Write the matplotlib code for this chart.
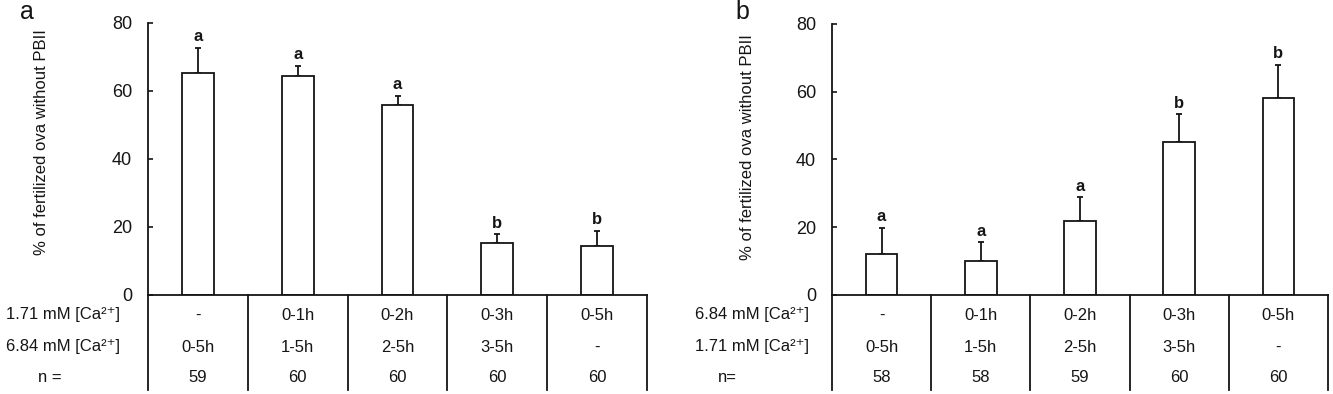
import matplotlib
matplotlib.use("Agg")
import matplotlib.pyplot as plt

plt.rcParams['font.family'] = ['Liberation Sans', 'DejaVu Sans']

# panel a
a_means = [65.1, 64.4, 55.9, 15.1, 14.4]
a_errs = [7.5, 2.9, 2.6, 2.7, 4.4]
a_letters = ['a', 'a', 'a', 'b', 'b']
a_row1 = ['-', '0-1h', '0-2h', '0-3h', '0-5h']
a_row2 = ['0-5h', '1-5h', '2-5h', '3-5h', '-']
a_n = ['59', '60', '60', '60', '60']
a_labels = ['1.71 mM [Ca²⁺]', '6.84 mM [Ca²⁺]', 'n =']

# panel b
b_means = [12.0, 9.9, 21.8, 45.0, 58.2]
b_errs = [7.8, 5.7, 7.1, 8.3, 9.8]
b_letters = ['a', 'a', 'a', 'b', 'b']
b_row1 = ['-', '0-1h', '0-2h', '0-3h', '0-5h']
b_row2 = ['0-5h', '1-5h', '2-5h', '3-5h', '-']
b_n = ['58', '58', '59', '60', '60']
b_labels = ['6.84 mM [Ca²⁺]', '1.71 mM [Ca²⁺]', 'n=']

W, H = 1333, 394
INK = '#151515'
fig = plt.figure(figsize=(W / 100, H / 100), dpi=100)


def panel(x0, x1, ytop, ybot, means, errs, letters, row1, row2, nvals, rowlabels,
          tag, tagx, ylab_x, ylab_y, lab_x, n_x):
    ax = fig.add_axes([x0 / W, 1 - ybot / H, (x1 - x0) / W, (ybot - ytop) / H])
    xs = range(len(means))
    ax.bar(xs, means, width=0.32, color='white', edgecolor=INK, linewidth=1.3, zorder=2)
    ax.errorbar(xs, means, yerr=[[0] * len(errs), errs], fmt='none', ecolor=INK,
                elinewidth=1.3, capsize=2.2, capthick=1.3, zorder=1)
    for x, m, e, l in zip(xs, means, errs, letters):
        ax.text(x, m + e + 1.0, l, ha='center', va='bottom', fontsize=12, fontweight='bold',
                color=INK)
    ax.set_xlim(-0.5, len(means) - 0.5)
    ax.set_ylim(0, 80)
    ax.set_yticks([0, 20, 40, 60, 80])
    ax.tick_params(axis='y', labelsize=13, length=3.6, width=1.2, direction='in',
                   colors=INK, pad=11.5)
    ax.set_xticks([])
    for s in ['top', 'right']:
        ax.spines[s].set_visible(False)
    for s in ['left', 'bottom']:
        ax.spines[s].set_linewidth(1.3)
        ax.spines[s].set_color(INK)
    ax.set_ylabel('% of fertilized ova without PBII', fontsize=12, color=INK)
    ax.yaxis.set_label_coords(ylab_x, ylab_y)

    # table under the axis
    ppu = (ybot - ytop) / 80.0
    ylow = -(390 - ybot) / ppu
    for k in range(len(means)):
        ax.plot([k + 0.5, k + 0.5], [0, ylow], color=INK, lw=1.3, clip_on=False)
    ax.plot([-0.5, -0.5], [0, ylow], color=INK, lw=1.3, clip_on=False)
    rows_y = [-(315 - ybot) / ppu, -(347 - ybot) / ppu, -(378 - ybot) / ppu]
    for ry, vals in zip(rows_y, [row1, row2, nvals]):
        for x, v in zip(xs, vals):
            ax.text(x, ry, v, ha='center', va='center', fontsize=12, color=INK)
    for i, (ry, lab) in enumerate(zip(rows_y, rowlabels)):
        if i < 2:
            ax.text(lab_x, ry, lab, ha='right', va='center', fontsize=12, color=INK)
        else:
            ax.text(n_x, ry, lab, ha='center', va='center', fontsize=12, color=INK)
    fig.text(tagx / W, 1 - 12 / H, tag, ha='center', va='center', fontsize=18, color=INK)
    return ax


panel(148, 647, 22.7, 294.7, a_means, a_errs, a_letters, a_row1, a_row2, a_n, a_labels,
      'a', 27, -0.198, 0.56, -0.78, -1.48)
panel(832, 1328, 24, 294.7, b_means, b_errs, b_letters, b_row1, b_row2, b_n, b_labels,
      'b', 742, -0.155, 0.545, -0.73, -1.55)

fig.savefig('out.png', dpi=100)
